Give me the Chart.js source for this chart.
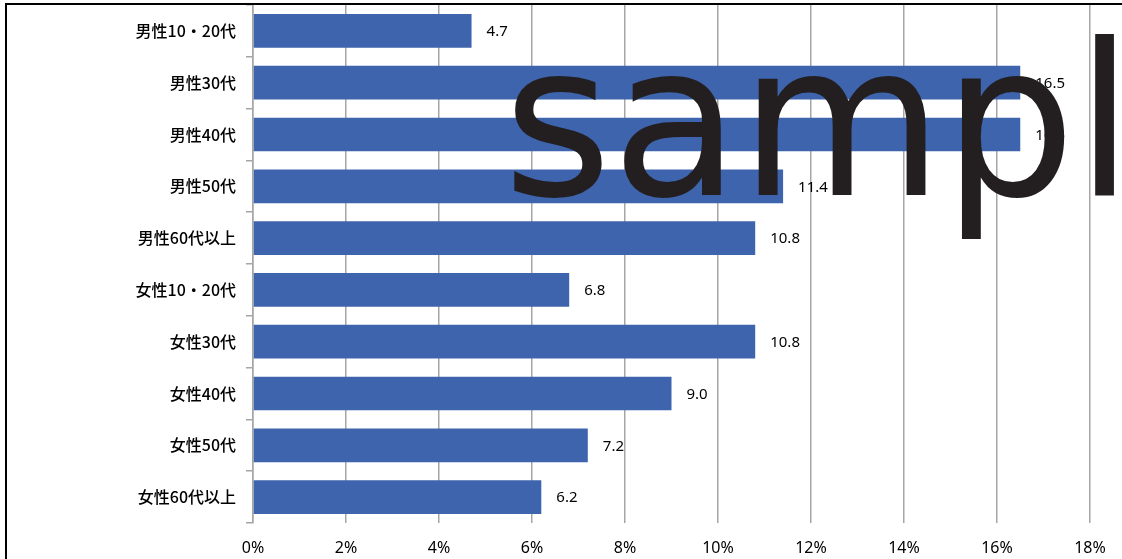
<!DOCTYPE html>
<html>
<head>
<meta charset="utf-8">
<script src="https://cdn.jsdelivr.net/npm/chart.js@4/dist/chart.umd.min.js"></script>
<style>
html,body{margin:0;padding:0;background:#fff;}
#wrap{width:1122px;height:559px;position:relative;}
</style>
</head>
<body>
<div id="wrap"><canvas id="c" width="1122" height="559"></canvas></div>
<script>
const categories = ["男性10・20代","男性30代","男性40代","男性50代","男性60代以上","女性10・20代","女性30代","女性40代","女性50代","女性60代以上"];
const values = [4.7, 16.5, 16.5, 11.4, 10.8, 6.8, 10.8, 9.0, 7.2, 6.2];
const xTicks = [0, 2, 4, 6, 8, 10, 12, 14, 16, 18];
const watermarkText = "sample";

const valueLabels = {
  id: 'valueLabels',
  afterDatasetsDraw(chart) {
    const ctx = chart.ctx;
    const meta = chart.getDatasetMeta(0);
    ctx.save();
    ctx.font = '15px "Noto Sans", sans-serif';
    ctx.fillStyle = '#000';
    ctx.textAlign = 'left';
    ctx.textBaseline = 'middle';
    meta.data.forEach((bar, i) => {
      ctx.fillText(values[i].toFixed(1), bar.x + 15, bar.y + 1);
    });
    ctx.restore();
  }
};

const frameAndMark = {
  id: 'frameAndMark',
  afterDraw(chart) {
    const ctx = chart.ctx;
    ctx.save();
    ctx.strokeStyle = '#000';
    ctx.lineWidth = 2;
    ctx.beginPath();
    ctx.moveTo(1122, 4);
    ctx.lineTo(6, 4);
    ctx.lineTo(6, 559);
    ctx.stroke();
    ctx.fillStyle = '#231f20';
    ctx.font = '213px "DejaVu Sans", sans-serif';
    ctx.textBaseline = 'alphabetic';
    ctx.textAlign = 'left';
    ctx.translate(503, 195);
    ctx.scale(0.98, 1);
    ctx.fillText(watermarkText, 0, 0);
    ctx.restore();
  }
};

new Chart(document.getElementById('c'), {
  type: 'bar',
  data: {
    labels: categories,
    datasets: [{
      data: values,
      backgroundColor: '#3f64ae',
      borderWidth: 0,
      barPercentage: 0.65,
      categoryPercentage: 1.0
    }]
  },
  options: {
    indexAxis: 'y',
    responsive: false,
    animation: false,
    layout: { padding: { top: 5, right: 32, left: 0, bottom: 0 } },
    plugins: { legend: { display: false }, tooltip: { enabled: false } },
    scales: {
      x: {
        min: 0, max: 18,
        afterBuildTicks(scale) { scale.ticks = xTicks.map(v => ({ value: v })); },
        afterFit(scale) { scale.height = 36; scale.paddingLeft = 0; scale.paddingRight = 0; },
        grid: { color: '#a6a6a6', lineWidth: 1.5, drawTicks: false },
        border: { display: false },
        ticks: {
          padding: 16,
          color: '#000',
          font: { family: '"Noto Sans", sans-serif', size: 16 },
          callback: (v) => v + '%'
        }
      },
      y: {
        afterFit(scale) { scale.width = 253; scale.paddingTop = 0; scale.paddingBottom = 0; },
        grid: { offset: true, drawOnChartArea: false, color: '#a6a6a6', lineWidth: 1.5, tickLength: 7 },
        border: { display: true, color: '#a6a6a6', width: 1.5 },
        ticks: {
          padding: 10,
          color: '#000',
          font: { family: '"Noto Sans CJK JP", sans-serif', size: 16, weight: '500' }
        }
      }
    }
  },
  plugins: [valueLabels, frameAndMark]
});
</script>
</body>
</html>
